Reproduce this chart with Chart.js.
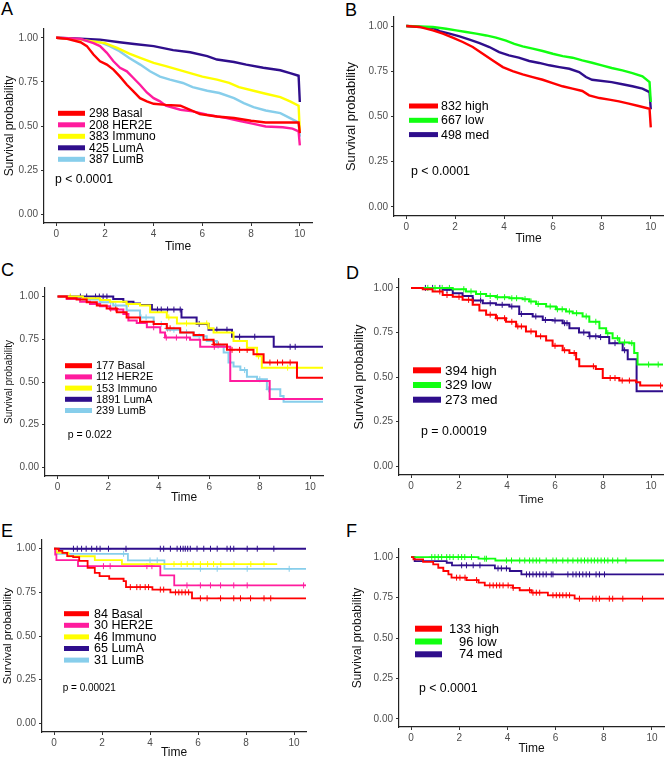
<!DOCTYPE html>
<html>
<head>
<meta charset="utf-8">
<script src="https://cdn.jsdelivr.net/npm/chart.js@4.4.1/dist/chart.umd.min.js"></script>
<style>
  html, body { margin: 0; padding: 0; background: #fff; overflow: hidden; }
  #fig { position: relative; width: 666px; height: 759px; overflow: hidden; }
  #fig canvas { position: absolute; }
  .tag { position: absolute; font: 18px "Liberation Sans", Arial, sans-serif; line-height: 18px; color: #000; }
</style>
</head>
<body>
<div id="fig">
  <div class="tag" style="left:1px;top:0px">A</div>
  <div class="tag" style="left:345px;top:1px">B</div>
  <div class="tag" style="left:1px;top:261px">C</div>
  <div class="tag" style="left:346px;top:264px">D</div>
  <div class="tag" style="left:1px;top:522px">E</div>
  <div class="tag" style="left:346px;top:522px">F</div>
</div>
<script>
const FONT = '"Liberation Sans", Arial, Helvetica, sans-serif';

// shared axes
const xTicks = [0, 2, 4, 6, 8, 10];
const yTicks = [0, 0.25, 0.5, 0.75, 1];
const subtypeColors = ['#FF0000', '#FF1C9E', '#FFFF00', '#2F0E8C', '#87CEEB'];
const levelColors = ['#FF0000', '#11FF11', '#2F0E8C'];

// ---- A: subtypes, 10-year (many events, drawn as a fine curve)
const aLabels = ['298 Basal', '208 HER2E', '383 Immuno', '425 LumA', '387 LumB'];
const aBasal = [[0,1],[0.45,0.994],[1.0,0.975],[1.26,0.953],[1.53,0.905],[1.8,0.867],[2.08,0.848],[2.35,0.82],[2.62,0.78],[2.9,0.734],[3.17,0.696],[3.44,0.658],[3.72,0.64],[4.0,0.626],[4.5,0.62],[5.1,0.615],[5.5,0.592],[5.9,0.567],[6.6,0.554],[7.3,0.545],[8.0,0.53],[8.6,0.52],[9.95,0.52],[10,0.46]];
const aHer2e = [[0,1],[1.0,0.994],[1.53,0.97],[1.8,0.953],[2.08,0.915],[2.35,0.867],[2.62,0.83],[2.9,0.81],[3.17,0.772],[3.44,0.734],[3.72,0.69],[4.0,0.658],[4.26,0.64],[4.5,0.615],[5.1,0.592],[5.6,0.583],[6.2,0.564],[7.0,0.545],[7.5,0.53],[8.1,0.512],[8.6,0.497],[9.3,0.493],[9.7,0.485],[9.95,0.47],[10,0.39]];
const aImmuno = [[0,1],[1.0,0.99],[2.0,0.97],[2.5,0.943],[3.0,0.91],[3.45,0.886],[4.0,0.858],[4.5,0.84],[5.0,0.82],[5.5,0.8],[6.0,0.78],[6.6,0.763],[7.1,0.744],[7.5,0.72],[8.1,0.7],[8.6,0.683],[9.2,0.664],[9.6,0.64],[9.95,0.615],[10,0.47]];
const aLumA = [[0,1],[1.0,0.995],[1.8,0.99],[2.6,0.975],[3.2,0.965],[4.0,0.953],[4.8,0.93],[5.5,0.918],[6.2,0.896],[6.6,0.877],[7.3,0.863],[7.8,0.848],[8.5,0.83],[9.2,0.816],[9.6,0.8],[9.95,0.785],[10,0.636]];
const aLumB = [[0,1],[1.0,0.99],[1.8,0.975],[2.2,0.953],[2.6,0.924],[3.0,0.886],[3.45,0.848],[3.85,0.81],[4.26,0.78],[4.67,0.763],[5.2,0.744],[5.6,0.72],[6.2,0.7],[6.7,0.687],[7.3,0.658],[7.7,0.63],[8.1,0.607],[8.6,0.588],[9.2,0.573],[9.6,0.545],[9.95,0.52],[10,0.44]];

// ---- B: expression levels, 10-year
const bLabels = ['832 high', '667 low', '498 med'];
const bHigh = [[0,1],[0.54,0.995],[1.09,0.976],[1.5,0.958],[1.9,0.936],[2.31,0.912],[2.72,0.884],[3.13,0.847],[3.54,0.81],[3.95,0.773],[4.35,0.751],[4.76,0.733],[5.17,0.718],[5.58,0.703],[5.99,0.685],[6.39,0.667],[6.8,0.654],[7.2,0.641],[7.48,0.617],[7.9,0.602],[8.3,0.593],[8.7,0.584],[9.1,0.571],[9.5,0.558],[9.95,0.543],[10,0.44]];
const bLow = [[0,1],[1.09,0.995],[1.63,0.985],[2.04,0.976],[2.45,0.967],[2.86,0.958],[3.27,0.948],[3.67,0.936],[4.08,0.92],[4.42,0.902],[4.76,0.888],[5.17,0.875],[5.58,0.862],[5.99,0.847],[6.4,0.834],[6.8,0.825],[7.2,0.81],[7.6,0.797],[8.0,0.783],[8.4,0.768],[8.84,0.755],[9.25,0.74],[9.66,0.722],[9.95,0.69],[10,0.58]];
const bMed = [[0,1],[1.09,0.99],[1.36,0.972],[1.77,0.958],[2.18,0.943],[2.59,0.925],[3.0,0.906],[3.4,0.884],[3.8,0.856],[4.2,0.838],[4.6,0.825],[5.03,0.807],[5.44,0.796],[5.85,0.783],[6.26,0.773],[6.67,0.764],[7.07,0.746],[7.35,0.718],[7.6,0.703],[8.4,0.69],[8.84,0.678],[9.25,0.667],[9.66,0.654],[9.95,0.635],[10,0.54]];

// ---- C: subtypes, second cohort
const cLabels = ['177 Basal', '112 HER2E', '153 Immuno', '1891 LumA', '239 LumB'];
const cBasal = [[0,1],[0.36,0.99],[0.75,0.982],[1.15,0.967],[1.55,0.947],[1.94,0.93],[2.34,0.908],[2.73,0.878],[3.26,0.853],[3.8,0.84],[4.32,0.814],[4.85,0.79],[5.38,0.775],[5.77,0.747],[6.17,0.72],[6.7,0.688],[7.75,0.663],[8.15,0.614],[9.47,0.525],[10.5,0.525]];
const cHer2e = [[0,1],[0.36,0.986],[0.89,0.97],[1.28,0.957],[1.68,0.943],[2.07,0.924],[2.6,0.898],[2.8,0.86],[3.13,0.845],[3.53,0.82],[4.06,0.79],[4.25,0.76],[5.24,0.747],[5.64,0.706],[6.83,0.506],[8.39,0.4],[10.5,0.4]];
const cImmuno = [[0,1],[1.0,0.99],[1.68,0.98],[2.07,0.97],[2.73,0.957],[3.26,0.947],[3.66,0.908],[4.32,0.878],[4.72,0.843],[5.97,0.814],[6.17,0.79],[6.96,0.74],[7.49,0.7],[7.89,0.65],[8.08,0.584],[10.5,0.584]];
const cLumA = [[0,1],[2.2,0.986],[2.6,0.97],[3.0,0.96],[3.26,0.95],[3.73,0.924],[4.9,0.878],[5.5,0.84],[5.97,0.806],[6.9,0.765],[8.55,0.706],[10.5,0.706]];
const cLumB = [[0,1],[0.4,0.995],[1.0,0.982],[1.68,0.967],[2.2,0.947],[2.73,0.918],[3.26,0.878],[3.8,0.84],[4.32,0.806],[4.85,0.79],[5.38,0.767],[5.9,0.74],[6.3,0.712],[6.57,0.673],[6.76,0.614],[6.96,0.59],[7.23,0.57],[7.49,0.53],[7.89,0.516],[8.28,0.457],[8.81,0.418],[8.94,0.384],[10.5,0.384]];
const cBasalCens = [2.1,2.3,4.35,4.45,6.2,6.35,6.9,7.2,7.5,8.4,8.7,8.9,9.2];
const cHer2eCens = [3.8,4.3,4.7,5.1,6.2];
const cImmunoCens = [0.5,2.8,4.4,5.1,5.9,7.95,9.1];
const cLumACens = [0.9,1.15,1.5,1.65,1.8,1.95,3.95,4.1,4.35,4.6,4.85,5.6,6.3,6.7,7.2,7.8,9.2,9.4];
const cLumBCens = [1.7,2.1,2.3,3.3,3.5,4.1,4.6,5.1,5.6,6.35,7.4,8.0,8.35];

// ---- D: expression levels, second cohort
const dLabels = ['394 high', '329 low', '273 med'];
const dHigh = [[0,1],[0.49,0.993],[0.9,0.98],[1.32,0.96],[1.74,0.95],[2.15,0.933],[2.57,0.905],[2.85,0.873],[3.13,0.85],[3.54,0.83],[3.96,0.81],[4.38,0.784],[4.79,0.756],[5.21,0.728],[5.63,0.705],[5.9,0.675],[6.32,0.65],[6.6,0.634],[6.88,0.6],[7.01,0.56],[7.7,0.545],[7.99,0.494],[8.68,0.48],[9.38,0.47],[9.55,0.452],[10.5,0.452]];
const dLow = [[0,1],[1.74,0.993],[2.29,0.98],[2.71,0.966],[3.13,0.955],[3.54,0.948],[4.1,0.942],[4.65,0.937],[4.93,0.924],[5.21,0.91],[5.63,0.896],[6.04,0.88],[6.46,0.868],[6.74,0.858],[7.15,0.84],[7.43,0.81],[7.85,0.774],[8.13,0.746],[8.4,0.718],[8.68,0.694],[9.1,0.69],[9.3,0.634],[9.44,0.57],[10.5,0.57]];
const dMed = [[0,1],[1.32,0.989],[1.74,0.97],[2.15,0.955],[2.57,0.93],[2.99,0.914],[3.54,0.905],[4.1,0.896],[4.51,0.854],[5.07,0.84],[5.49,0.82],[5.9,0.817],[6.32,0.802],[6.6,0.774],[7.0,0.75],[7.43,0.728],[7.85,0.724],[8.26,0.69],[8.82,0.65],[9.03,0.6],[9.4,0.42],[10.5,0.42]];
const dHighCens = [1.2,1.5,2.0,2.4,3.3,3.6,3.9,4.2,4.45,4.6,5.0,5.4,6.0,6.4,6.8,7.6,8.3,8.5,8.8,9.1,10.4];
const dLowCens = [0.7,1.0,1.3,1.6,2.2,2.5,2.9,3.3,3.6,3.9,4.2,4.4,4.75,5.0,5.3,5.8,6.1,6.3,6.6,6.9,7.3,7.7,8.2,8.6,8.9,9.2,9.9,10.3];
const dMedCens = [0.6,0.9,1.2,1.5,2.6,2.9,3.3,3.8,4.2,4.6,5.2,5.6,6.0,6.4,6.5,7.2,7.45,7.7,7.9,8.5,8.9];

// ---- E: subtypes, third cohort
const eLabels = ['84 Basal', '30 HER2E', '46 Immuno', '65 LumA', '31 LumB'];
const eBasal = [[0,1],[0.2,0.988],[0.35,0.976],[0.55,0.958],[0.8,0.952],[1.05,0.93],[1.4,0.89],[1.7,0.862],[1.9,0.843],[2.3,0.828],[2.9,0.814],[3.0,0.78],[4.1,0.766],[4.85,0.75],[5.75,0.716],[10.5,0.716]];
const eHer2e = [[0,1],[0.05,0.967],[0.1,0.935],[1.0,0.9],[4.43,0.847],[5.01,0.79],[10.5,0.79]];
const eImmuno = [[0,1],[0.1,0.978],[0.6,0.957],[1.7,0.935],[2.83,0.912],[9.3,0.912]];
const eLumA = [[0,1],[10.5,1]];
const eLumB = [[0,1],[0.1,0.971],[3.08,0.933],[4.6,0.885],[10.5,0.885]];
const eBasalCens = [3.18,3.45,3.59,3.8,3.94,4.43,4.57,5.06,5.2,5.33,5.47,5.61,6.1,6.38,6.94,7.49,7.77,8.19,8.75,9.03];
const eHer2eCens = [2.06,2.34,3.87,4.08,5.54,6.1,6.52,6.94,7.49,8.05,10.4];
const eImmunoCens = [5.0,5.3,5.55,5.8,6.1,6.4,6.65,6.95,7.5,8.2,8.75];
const eLumACens = [0.81,0.97,1.15,1.34,1.57,1.78,1.92,2.27,3.0,4.43,4.57,4.85,5.13,5.27,5.38,5.47,5.57,5.68,5.96,6.24,6.52,6.8,7.21,7.35,7.49,8.05,8.47,9.16];
const eLumBCens = [2.9,4.0,4.3,6.1,6.8,8.05,9.8];

// ---- F: expression levels, third cohort
const fLabels = ['133 high', '\u2002 96 low', '\u2002 74 med'];
const fHigh = [[0,1],[0.1,0.986],[0.5,0.97],[0.92,0.955],[1.13,0.934],[1.34,0.914],[1.55,0.893],[1.68,0.873],[2.3,0.858],[2.8,0.842],[3.06,0.825],[4.23,0.81],[4.51,0.795],[5.0,0.78],[5.68,0.764],[6.79,0.743],[10.5,0.743]];
const fLow = [[0,1],[2.8,0.99],[3.5,0.979],[10.5,0.979]];
const fMed = [[0,1],[0.15,0.975],[1.48,0.965],[1.7,0.949],[3.48,0.93],[4.1,0.914],[4.58,0.893],[10.5,0.893]];
const fHighCens = [1.89,2.03,2.24,2.72,3.27,3.41,3.55,3.68,3.82,4.03,4.24,4.92,5.06,5.2,5.34,5.89,6.03,6.17,6.3,6.44,6.58,6.99,7.54,7.68,7.82,8.23,8.37,8.79,9.61];
const fLowCens = [0.86,0.99,1.13,1.27,1.48,1.61,1.75,1.96,2.1,2.23,2.51,3.06,3.13,3.96,4.17,4.51,4.72,4.92,5.06,5.2,5.34,5.61,5.89,6.03,6.3,6.51,6.72,6.92,7.06,7.2,7.34,7.48,7.61,7.75,7.89,8.03,8.17,8.37,8.58,8.92];
const fMedCens = [2.1,2.3,2.58,2.86,3.61,3.75,3.96,4.79,4.92,5.06,5.2,5.34,5.48,5.61,5.82,5.89,6.51,6.72,6.85,6.99,7.13,7.27,7.41,7.68,7.82,8.03];

Chart.defaults.font.family = FONT;

const kmOverlay = {
  id: 'kmOverlay',
  afterDraw(chart, args, o) {
    const ctx = chart.ctx;
    const ox = chart.$ox, oy = chart.$oy;
    if (ox === undefined) return;
    ctx.save();
    ctx.textBaseline = 'middle';
    ctx.textAlign = 'left';
    ctx.font = o.size + 'px ' + FONT;
    chart.data.datasets.filter(d => !d.isCensor).forEach((d, i) => {
      const y = o.y0 + i * o.dy - oy;
      ctx.fillStyle = d.borderColor;
      ctx.fillRect(o.kx - ox, y - o.kh / 2, o.kw, o.kh);
      ctx.fillStyle = '#000';
      ctx.fillText(d.label, o.tx - ox, y + 0.5);
    });
    ctx.font = o.pSize + 'px ' + FONT;
    ctx.fillStyle = '#000';
    ctx.fillText(o.p, o.px - ox, o.py - oy);
    ctx.restore();
  }
};

function survAt(curve, t) {
  let s = 1;
  for (const [x, y] of curve) { if (x <= t) s = y; else break; }
  return s;
}

function makePanel(L, curves, labels, colors, cens, leg) {
  const lineY = L.yTitleSize * 1.2, lineX = L.xTitleSize * 1.2;
  const left = Math.round(L.yTitleX - lineY / 2);
  const top = Math.round(L.axT - 10);
  const bottom = Math.round(L.xTitleY + lineX / 2);
  const right = L.axR + 8;
  const cv = document.createElement('canvas');
  cv.width = right - left;
  cv.height = bottom - top;
  cv.style.left = left + 'px';
  cv.style.top = top + 'px';
  document.getElementById('fig').appendChild(cv);

  const datasets = curves.map((c, i) => ({
    label: labels[i],
    data: c.map(p => ({ x: p[0], y: p[1] })),
    borderColor: colors[i],
    backgroundColor: colors[i],
    borderWidth: L.lw,
    stepped: L.stepped ? 'before' : false,
    tension: 0,
    pointRadius: 0,
    fill: false
  }));
  if (cens) {
    cens.forEach((times, i) => {
      datasets.push({
        isCensor: true,
        label: '',
        data: times.map(t => ({ x: t, y: survAt(curves[i], t) })),
        showLine: false,
        pointStyle: 'cross',
        pointRadius: 3,
        borderWidth: 1,
        borderColor: colors[i],
        backgroundColor: colors[i]
      });
    });
  }

  const axisFont = { size: 10, family: FONT };
  const chart = new Chart(cv, {
    type: 'line',
    data: { datasets },
    options: {
      responsive: false,
      animation: false,
      events: [],
      layout: { padding: { left: 0, top: L.axT - top, right: 8, bottom: 0 } },
      plugins: { legend: { display: false }, tooltip: { enabled: false }, kmOverlay: leg },
      scales: {
        x: {
          type: 'linear', min: -0.5, max: 10.5,
          afterBuildTicks: s => { s.ticks = xTicks.map(v => ({ value: v })); },
          afterFit: s => { s.height = bottom - L.axB; },
          grid: { drawOnChartArea: false, tickLength: 3, color: '#333', lineWidth: 1 },
          border: { display: true, color: '#222', width: 1.2 },
          ticks: { color: '#4D4D4D', font: axisFont, padding: 2, maxRotation: 0, autoSkip: false, callback: v => String(v) },
          title: { display: true, text: 'Time', color: '#111', font: { size: L.xTitleSize, family: FONT }, padding: 0 }
        },
        y: {
          type: 'linear', min: -0.05, max: 1.05,
          afterBuildTicks: s => { s.ticks = yTicks.map(v => ({ value: v })); },
          afterFit: s => { s.width = L.axL - left; },
          grid: { drawOnChartArea: false, tickLength: 3, color: '#333', lineWidth: 1 },
          border: { display: true, color: '#222', width: 1.2 },
          ticks: { color: '#4D4D4D', font: axisFont, padding: 3, autoSkip: false, callback: v => v.toFixed(2) },
          title: { display: true, text: 'Survival probability', color: '#111', font: { size: L.yTitleSize, family: FONT }, padding: 0 }
        }
      }
    },
    plugins: [kmOverlay]
  });
  chart.$ox = left;
  chart.$oy = top;
  chart.draw();
}

makePanel({ axL: 44, axR: 312, axT: 29, axB: 223, yTitleX: 9, yTitleSize: 12, xTitleY: 247, xTitleSize: 12, lw: 2.4, stepped: false },
  [aBasal, aHer2e, aImmuno, aLumA, aLumB], aLabels, subtypeColors, null,
  { kx: 58, kw: 27, kh: 5, tx: 89, y0: 113.3, dy: 11.5, size: 12, p: 'p < 0.0001', px: 55, py: 180, pSize: 12.2 });

makePanel({ axL: 394, axR: 663, axT: 17, axB: 216, yTitleX: 352, yTitleSize: 13, xTitleY: 239, xTitleSize: 12, lw: 2.4, stepped: false },
  [bHigh, bLow, bMed], bLabels, levelColors, null,
  { kx: 409, kw: 29, kh: 5, tx: 441, y0: 106, dy: 14.3, size: 12.4, p: 'p < 0.0001', px: 411, py: 172, pSize: 12.4 });

makePanel({ axL: 45, axR: 323, axT: 288, axB: 476, yTitleX: 8.5, yTitleSize: 10, xTitleY: 498, xTitleSize: 12, lw: 2, stepped: true },
  [cBasal, cHer2e, cImmuno, cLumA, cLumB], cLabels, subtypeColors,
  [cBasalCens, cHer2eCens, cImmunoCens, cLumACens, cLumBCens],
  { kx: 65, kw: 27, kh: 5, tx: 96, y0: 365.7, dy: 11.2, size: 11, p: 'p = 0.022', px: 67.7, py: 434.7, pSize: 10.5 });

makePanel({ axL: 399, axR: 663, axT: 279, axB: 475, yTitleX: 359, yTitleSize: 12.5, xTitleY: 500, xTitleSize: 11.5, lw: 2, stepped: true },
  [dHigh, dLow, dMed], dLabels, levelColors,
  [dHighCens, dLowCens, dMedCens],
  { kx: 413, kw: 28, kh: 6, tx: 445, y0: 370.3, dy: 14.7, size: 13.5, p: 'p = 0.00019', px: 421, py: 432, pSize: 12.4 });

makePanel({ axL: 42, axR: 306, axT: 540, axB: 732, yTitleX: 7.5, yTitleSize: 11.5, xTitleY: 753, xTitleSize: 12, lw: 1.8, stepped: true },
  [eBasal, eHer2e, eImmuno, eLumA, eLumB], eLabels, subtypeColors,
  [eBasalCens, eHer2eCens, eImmunoCens, eLumACens, eLumBCens],
  { kx: 64, kw: 25, kh: 5, tx: 94, y0: 613.7, dy: 11.6, size: 12.5, p: 'p = 0.00021', px: 62.7, py: 688.7, pSize: 10 });

makePanel({ axL: 399, axR: 664, axT: 549, axB: 727, yTitleX: 357, yTitleSize: 12, xTitleY: 749, xTitleSize: 12, lw: 1.8, stepped: true },
  [fHigh, fLow, fMed], fLabels, levelColors,
  [fHighCens, fLowCens, fMedCens],
  { kx: 415, kw: 27, kh: 6, tx: 449, y0: 628.7, dy: 12.8, size: 13, p: 'p < 0.0001', px: 419, py: 688.7, pSize: 12.3 });
</script>
</body>
</html>
